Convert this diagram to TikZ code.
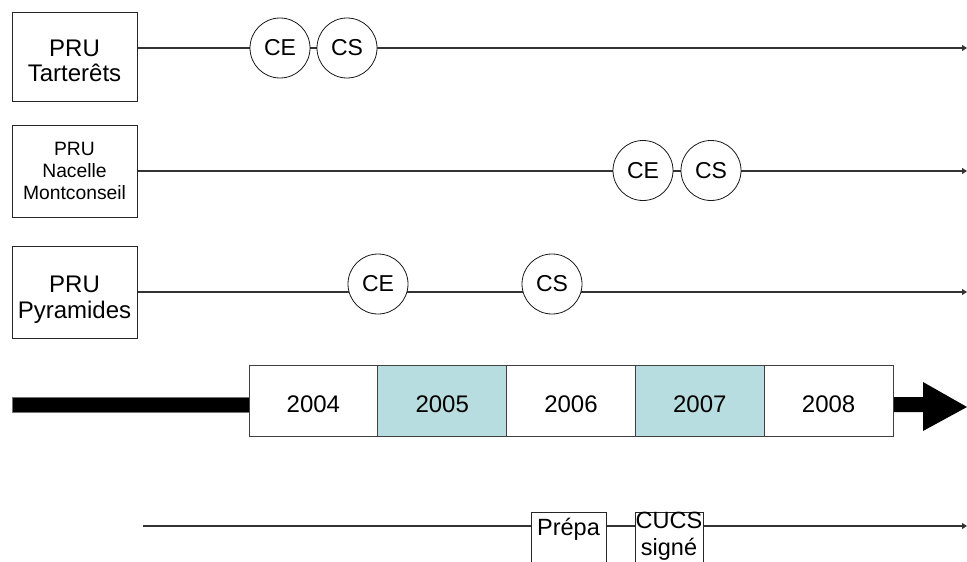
\documentclass[tikz,border=0pt]{standalone}
\usepackage{fontspec}
\setmainfont{Liberation Sans}
\usetikzlibrary{arrows.meta}
\definecolor{yearblue}{RGB}{183,221,224}
\begin{document}
\begin{tikzpicture}[x=1pt,y=-1pt,
  prubox/.style={draw=black!85, line width=1pt, fill=white, inner sep=0pt},
  ev/.style={circle, draw=black!90, line width=0.8pt, fill=white, minimum size=60pt, inner sep=0pt, font=\fontsize{23}{25}\selectfont},
  track/.style={draw=black!80, line width=1.3pt, -{Triangle[length=5pt,width=6pt]}},
  year/.style={draw=black!75, line width=0.8pt, minimum width=128.8pt, minimum height=71pt, inner sep=0pt, text height=24pt, font=\fontsize{24}{25}\selectfont},
  smallbox/.style={draw=black!85, line width=0.9pt, fill=white, minimum height=70pt, anchor=north west, inner sep=0pt},
  lbl/.style={align=center, inner sep=0pt, font=\fontsize{23.5}{27}\selectfont},
  prulbl/.style={align=center, inner sep=0pt, font=\fontsize{24}{25.5}\selectfont},
]
\useasboundingbox (0,0) rectangle (967,562);
\clip (0,0) rectangle (967,562);

% project boxes
\node[prubox, minimum width=125pt, minimum height=89pt] (b1) at (74.5,56.5) {};
\node[prulbl] (b1txt) at (74.5,61) {PRU\\Tarterêts};
\node[prubox, minimum width=125pt, minimum height=92pt] (b2) at (74.5,171) {};
\node[prulbl, font=\fontsize{19.3}{22}\selectfont] (b2txt) at (74.5,171) {PRU\\Nacelle\\Montconseil};
\node[prubox, minimum width=125pt, minimum height=92pt] (b3) at (74.5,292) {};
\node[prulbl] (b3txt) at (74.5,299.5) {PRU\\Pyramides};

% tracks
\coordinate (t1) at (967,48);
\coordinate (t2) at (967,171);
\coordinate (t3) at (967,292);
\draw[track] (b1.east |- t1) -- (t1);
\draw[track] (b2.east |- t2) -- (t2);
\draw[track] (b3.east |- t3) -- (t3);

% events
\node[ev] (ce1) at (280,48) {CE};
\node[ev] (cs1) at (347,48) {CS};
\node[ev] (ce2) at (643,170.5) {CE};
\node[ev] (cs2) at (711,170.5) {CS};
\node[ev] (ce3) at (378,284) {CE};
\node[ev] (cs3) at (552,284) {CS};

% big timeline arrow
\fill[black] (12,397) -- (923,397) -- (923,382) -- (967,407) -- (923,431) -- (923,412) -- (12,412) -- cycle;
\draw[black!55, line width=0.6pt] (12,397) -- (249,397) (12,412) -- (249,412) (12,397) -- (12,412);

% years
\node[year, fill=white]     (y2004) at (313.4,400.5) {2004};
\node[year, fill=yearblue]  (y2005) at (442.2,400.5) {2005};
\node[year, fill=white]     (y2006) at (571.0,400.5) {2006};
\node[year, fill=yearblue]  (y2007) at (699.8,400.5) {2007};
\node[year, fill=white]     (y2008) at (828.6,400.5) {2008};

% bottom track
\coordinate (s4) at (143,526);
\coordinate (t4) at (967,526);
\draw[track] (s4) -- (t4);
\node[smallbox, minimum width=75pt] (prepa) at (531,512) {};
\node[lbl] (prepatxt) at (568.5,529) {Prépa};
\node[smallbox, minimum width=68pt] (cucs) at (635,512) {};
\node[lbl] (cucstxt) at (669,536) {CUCS\\signé};
\end{tikzpicture}
\end{document}
